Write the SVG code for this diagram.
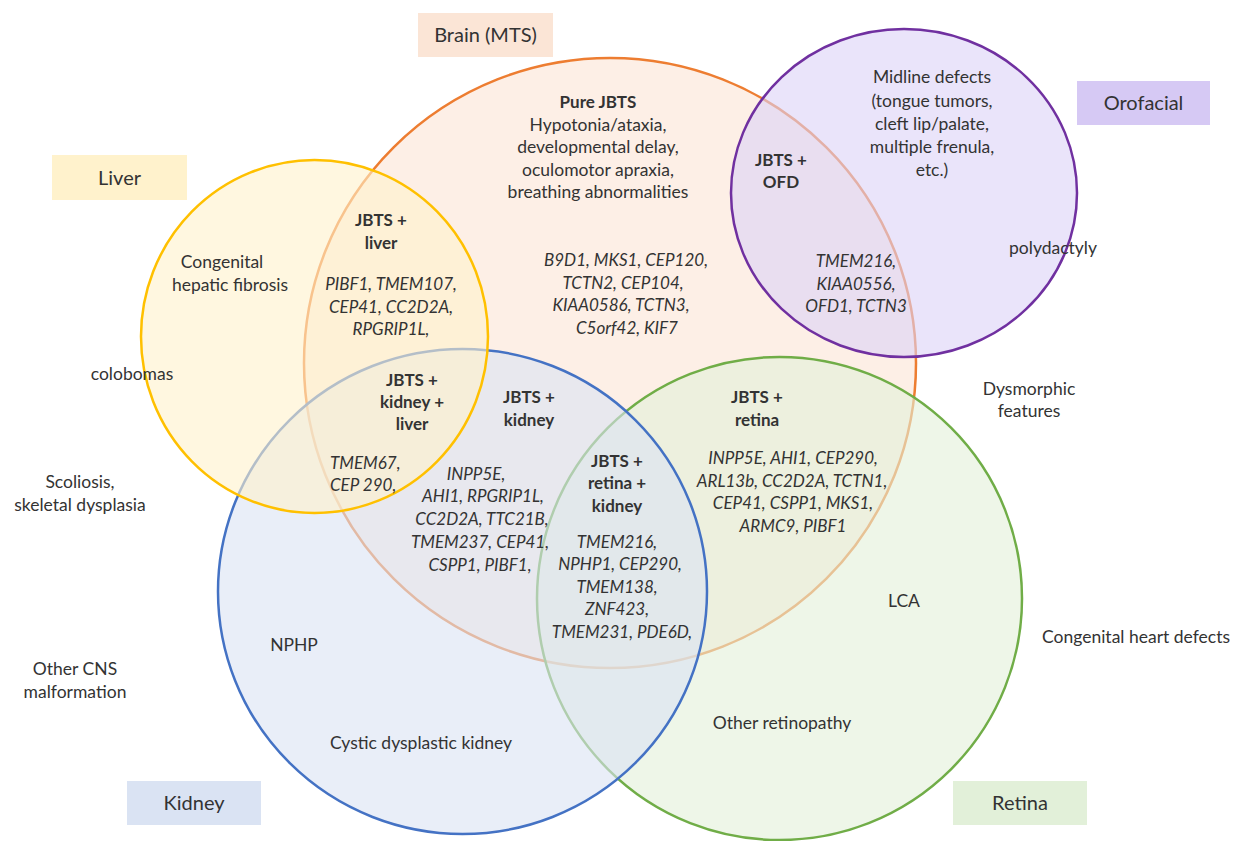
<svg xmlns="http://www.w3.org/2000/svg" width="1244" height="841" viewBox="0 0 1244 841">
<style>
text{font-family:"Lato","Liberation Sans",Arial,sans-serif;font-size:17.5px;fill:#333;text-anchor:middle}
.b{font-weight:bold;font-size:17px}
.i{font-style:italic;font-size:17px}
.lab{font-size:20px}
.l{text-anchor:start}
.circ{stroke-width:2.5}
</style>
<rect width="1244" height="841" fill="#fff"/>
<g id="brain-circle"><ellipse class="circ" cx="610" cy="363" rx="306" ry="305" fill="#fbe5d6" fill-opacity="0.6" stroke="#ed7d31"/></g>
<g id="retina-circle"><ellipse class="circ" cx="779.5" cy="598.5" rx="242.5" ry="241.5" fill="#e2f0d9" fill-opacity="0.6" stroke="#70ad47"/></g>
<g id="kidney-circle"><ellipse class="circ" cx="462.5" cy="591.5" rx="244.5" ry="242.5" fill="#dae3f3" fill-opacity="0.6" stroke="#4472c4"/></g>
<g id="liver-circle"><ellipse class="circ" cx="314.5" cy="336.5" rx="173.5" ry="176.5" fill="#fff2cc" fill-opacity="0.6" stroke="#ffc000"/></g>
<g id="orofacial-circle"><ellipse class="circ" cx="904" cy="193" rx="173" ry="164" fill="#dcd2f6" fill-opacity="0.6" stroke="#7030a0"/></g>
<g id="connectors"></g>
<g id="label-brain"><rect x="418" y="13" width="135" height="44" fill="#fbe5d6"/><text class="lab" x="485.5" y="42">Brain (MTS)</text></g>
<g id="label-orofacial"><rect x="1077" y="81" width="133" height="44" fill="#d6c9f4"/><text class="lab" x="1143.5" y="110">Orofacial</text></g>
<g id="label-liver"><rect x="52" y="155" width="135" height="45" fill="#fff2cc"/><text class="lab" x="119.5" y="185">Liver</text></g>
<g id="label-kidney"><rect x="127" y="781" width="134" height="44" fill="#dae3f3"/><text class="lab" x="194" y="810">Kidney</text></g>
<g id="label-retina"><rect x="953" y="781" width="134" height="44" fill="#e2f0d9"/><text class="lab" x="1020" y="810">Retina</text></g>
<g id="pure-jbts">
<text class="b" x="598" y="108">Pure JBTS</text>
<text x="598" y="131">Hypotonia/ataxia,</text>
<text x="598" y="153">developmental delay,</text>
<text x="598" y="176">oculomotor apraxia,</text>
<text x="598" y="198">breathing abnormalities</text>
</g>
<g id="brain-genes">
<text class="i" x="626" y="266">B9D1, MKS1, CEP120,</text>
<text class="i" x="623" y="289">TCTN2, CEP104,</text>
<text class="i" x="621" y="311">KIAA0586, TCTN3,</text>
<text class="i" x="627" y="334">C5orf42, KIF7</text>
</g>
<g id="orofacial-text">
<text x="932" y="83">Midline defects</text>
<text x="932" y="107">(tongue tumors,</text>
<text x="932" y="130">cleft lip/palate,</text>
<text x="932" y="153">multiple frenula,</text>
<text x="932" y="176">etc.)</text>
<text x="1053" y="254">polydactyly</text>
</g>
<g id="jbts-ofd">
<text class="b" x="781" y="166">JBTS +</text>
<text class="b" x="781" y="188">OFD</text>
<text class="i" x="856" y="267">TMEM216,</text>
<text class="i" x="856" y="290">KIAA0556,</text>
<text class="i" x="856" y="312">OFD1, TCTN3</text>
</g>
<g id="liver-text">
<text x="222" y="268">Congenital</text>
<text x="230" y="291">hepatic fibrosis</text>
<text x="132" y="380">colobomas</text>
</g>
<g id="jbts-liver">
<text class="b" x="381" y="226">JBTS +</text>
<text class="b" x="381" y="249">liver</text>
<text class="i" x="391" y="290">PIBF1, TMEM107,</text>
<text class="i" x="391" y="313">CEP41, CC2D2A,</text>
<text class="i" x="391" y="335">RPGRIP1L,</text>
</g>
<g id="jbts-kidney-liver">
<text class="b" x="412" y="386">JBTS +</text>
<text class="b" x="412" y="408">kidney +</text>
<text class="b" x="412" y="430">liver</text>
<text class="i l" x="330" y="469">TMEM67,</text>
<text class="i l" x="330" y="491">CEP 290,</text>
</g>
<g id="jbts-kidney">
<text class="b" x="529" y="403">JBTS +</text>
<text class="b" x="529" y="426">kidney</text>
<text class="i" x="476" y="480">INPP5E,</text>
<text class="i" x="483" y="502">AHI1, RPGRIP1L,</text>
<text class="i" x="482" y="525">CC2D2A, TTC21B,</text>
<text class="i" x="480" y="548">TMEM237, CEP41,</text>
<text class="i" x="480" y="571">CSPP1, PIBF1,</text>
</g>
<g id="jbts-retina-kidney">
<text class="b" x="617" y="467">JBTS +</text>
<text class="b" x="617" y="489">retina +</text>
<text class="b" x="617" y="512">kidney</text>
<text class="i" x="617" y="548">TMEM216,</text>
<text class="i" x="620" y="570">NPHP1, CEP290,</text>
<text class="i" x="617" y="593">TMEM138,</text>
<text class="i" x="617" y="615">ZNF423,</text>
<text class="i" x="622" y="638">TMEM231, PDE6D,</text>
</g>
<g id="jbts-retina">
<text class="b" x="757" y="403">JBTS +</text>
<text class="b" x="757" y="426">retina</text>
<text class="i" x="793" y="464">INPP5E, AHI1, CEP290,</text>
<text class="i" x="792" y="487">ARL13b, CC2D2A, TCTN1,</text>
<text class="i" x="793" y="509">CEP41, CSPP1, MKS1,</text>
<text class="i" x="793" y="532">ARMC9, PIBF1</text>
</g>
<g id="other-text">
<text x="1029" y="395">Dysmorphic</text>
<text x="1029" y="417">features</text>
<text x="80" y="488">Scoliosis,</text>
<text x="80" y="511">skeletal dysplasia</text>
<text x="904" y="607">LCA</text>
<text x="1136" y="643">Congenital heart defects</text>
<text x="294" y="651">NPHP</text>
<text x="75" y="675">Other CNS</text>
<text x="75" y="698">malformation</text>
<text x="782" y="729">Other retinopathy</text>
<text x="421" y="749">Cystic dysplastic kidney</text>
</g>
</svg>
